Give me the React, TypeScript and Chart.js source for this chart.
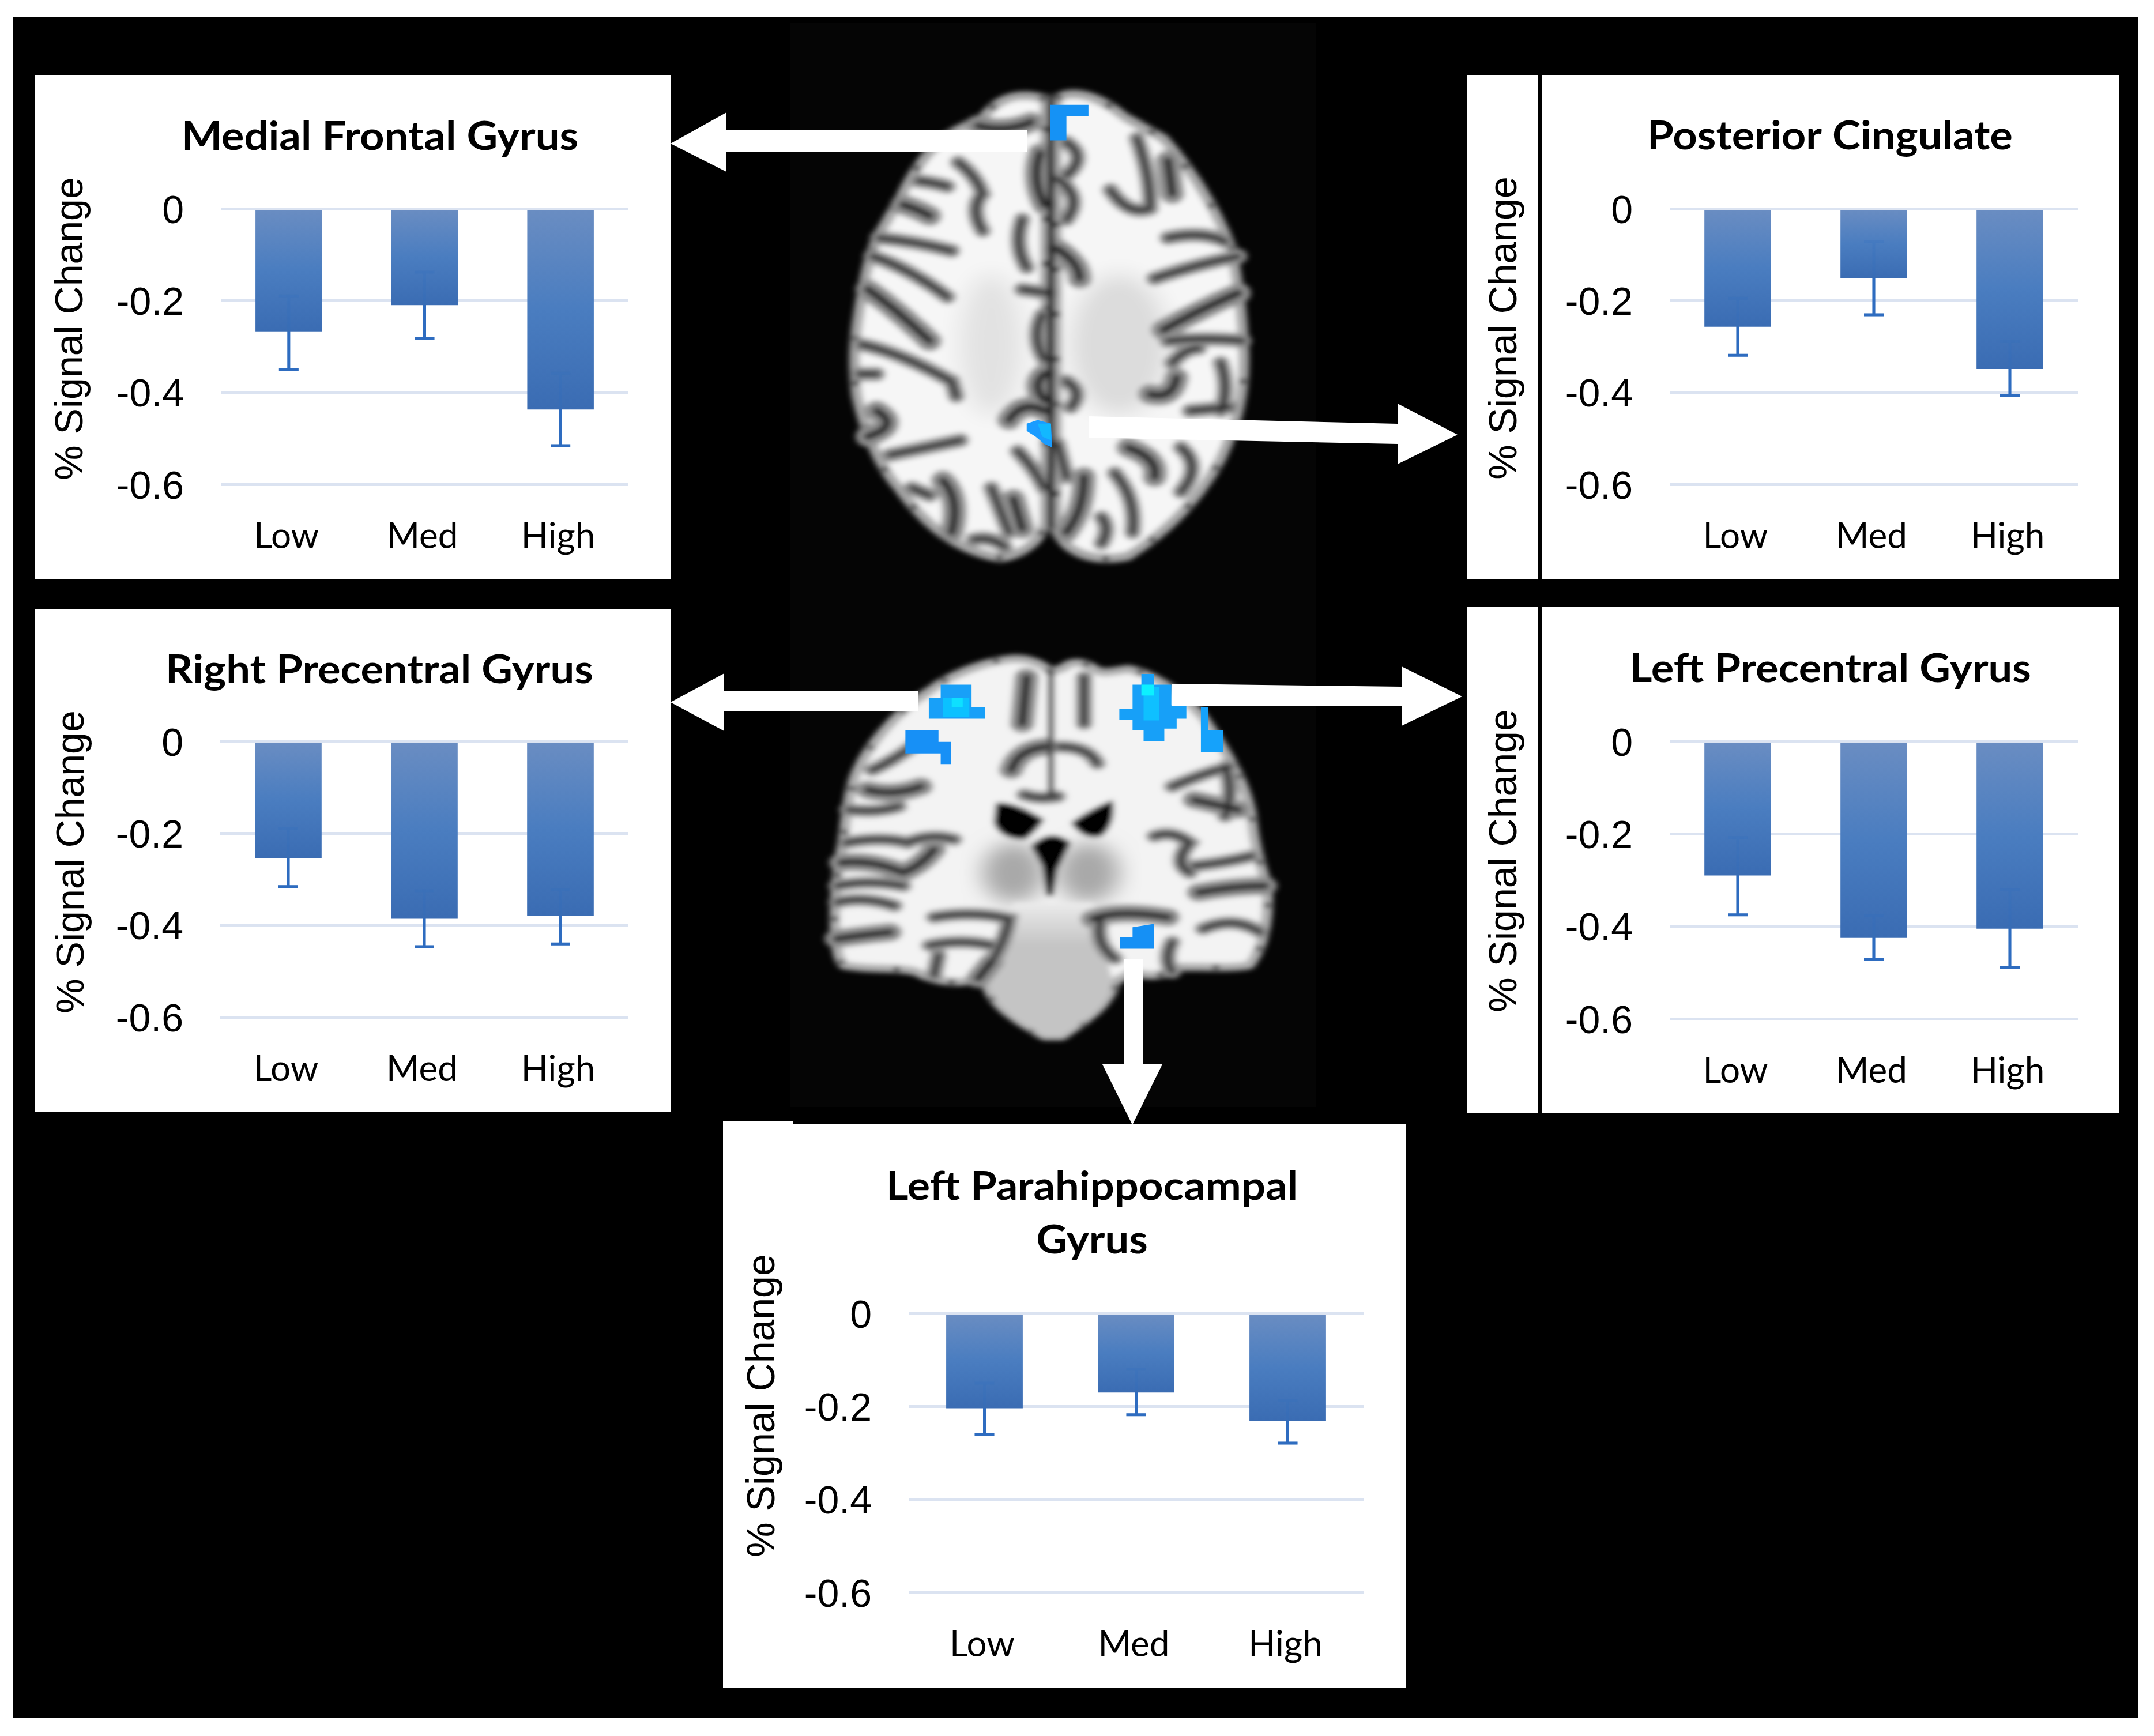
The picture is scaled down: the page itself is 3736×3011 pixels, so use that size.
import { useEffect, useRef } from "react";
import { Chart, registerables } from "chart.js";

Chart.register(...registerables);

const categories = ["Low", "Med", "High"];
const yTicks = [0, -0.2, -0.4, -0.6];

const medialFrontalValues = [-0.267, -0.21, -0.437];
const medialFrontalErrTop = [-0.19, -0.138, -0.358];
const medialFrontalErrBottom = [-0.35, -0.282, -0.516];

const posteriorCingulateValues = [-0.257, -0.152, -0.349];
const posteriorCingulateErrTop = [-0.195, -0.071, -0.289];
const posteriorCingulateErrBottom = [-0.319, -0.231, -0.407];

const rightPrecentralValues = [-0.254, -0.386, -0.379];
const rightPrecentralErrTop = [-0.19, -0.325, -0.322];
const rightPrecentralErrBottom = [-0.316, -0.447, -0.441];

const leftPrecentralValues = [-0.29, -0.425, -0.405];
const leftPrecentralErrTop = [-0.208, -0.377, -0.321];
const leftPrecentralErrBottom = [-0.375, -0.472, -0.489];

const parahippocampalValues = [-0.204, -0.17, -0.231];
const parahippocampalErrTop = [-0.15, -0.12, -0.187];
const parahippocampalErrBottom = [-0.261, -0.218, -0.279];

const yAxisLabel = "% Signal Change";

interface PanelProps {
  title: string[];
  values: number[];
  errTop: number[];
  errBottom: number[];
  // panel box and plot area, page pixels
  box: [number, number, number, number];
  area: [number, number, number, number];
  titleX: number;
  titleY: number[];
  axisX: number;
  axisY: number;
  barPct?: number;
}

const ERR_COLOR = "#2f6cc0";

function BarPanel(props: PanelProps) {
  const { title, values, errTop, errBottom, box, area, titleX, titleY, axisX, axisY } = props;
  const canvasRef = useRef<HTMLCanvasElement>(null);
  const [left, top, right, bottom] = box;
  const [aLeft, aTop, aRight, aBottom] = area;

  useEffect(() => {
    if (!canvasRef.current) return;

    const drawErrors = (chart: any, alpha: number) => {
      const { ctx, scales } = chart;
      ctx.save();
      ctx.globalAlpha = alpha;
      ctx.strokeStyle = ERR_COLOR;
      ctx.lineWidth = 5;
      values.forEach((_, i) => {
        const x = scales.x.getPixelForTick(i);
        const y1 = scales.y.getPixelForValue(errTop[i]);
        const y2 = scales.y.getPixelForValue(errBottom[i]);
        ctx.beginPath();
        ctx.moveTo(x, y1);
        ctx.lineTo(x, y2);
        ctx.moveTo(x - 17, y1);
        ctx.lineTo(x + 17, y1);
        ctx.moveTo(x - 17, y2);
        ctx.lineTo(x + 17, y2);
        ctx.stroke();
      });
      ctx.restore();
    };

    const errorBars = {
      id: "errorBars",
      beforeDatasetsDraw: (chart: any) => drawErrors(chart, 1),
      afterDatasetsDraw: (chart: any) => drawErrors(chart, 0.22),
    };

    // tick labels sit a little under their grid lines in the reference
    let nudged = false;
    const nudgeTicks = {
      id: "nudgeTicks",
      beforeDraw: (chart: any) => {
        if (nudged) return;
        nudged = true;
        chart.scales.y.getLabelItems(chart.chartArea).forEach((item: any) => {
          item.options.translation[1] += 6;
        });
      },
    };

    const panelText = {
      id: "panelText",
      afterDraw: (chart: any) => {
        const { ctx } = chart;
        ctx.save();
        ctx.fillStyle = "#000";
        ctx.textAlign = "center";
        ctx.textBaseline = "alphabetic";
        ctx.font = "bold 68px Lato";
        title.forEach((line, i) => {
          ctx.save();
          ctx.translate(titleX - left, titleY[i] + 2 - top);
          ctx.scale(1.09, 1);
          ctx.fillText(line, 0, 0);
          ctx.restore();
        });
        ctx.translate(axisX - left, axisY - top);
        ctx.rotate(-Math.PI / 2);
        ctx.font = '68px "Liberation Sans"';
        ctx.fillText(yAxisLabel, 0, 0);
        ctx.restore();
      },
    };

    const chart = new Chart(canvasRef.current, {
      type: "bar",
      data: {
        labels: categories,
        datasets: [
          {
            data: values,
            categoryPercentage: 1,
            barPercentage: props.barPct ?? 0.49,
            backgroundColor: (c: any) => {
              const { chart: ch, dataIndex } = c;
              if (!ch.chartArea || dataIndex === undefined) return "#4a7dc0";
              const y = ch.scales.y;
              const g = ch.ctx.createLinearGradient(
                0,
                y.getPixelForValue(0),
                0,
                y.getPixelForValue(values[dataIndex])
              );
              g.addColorStop(0, "#6a8dc2");
              g.addColorStop(0.5, "#4a7dc0");
              g.addColorStop(1, "#3a6cb3");
              return g;
            },
          },
        ],
      },
      options: {
        responsive: false,
        animation: false,
        devicePixelRatio: 1,
        layout: {
          padding: { left: 0, top: aTop - top, right: right - aRight, bottom: 0 },
        },
        plugins: { legend: { display: false }, title: { display: false }, tooltip: { enabled: false } },
        scales: {
          x: {
            afterFit: (s: any) => {
              s.height = bottom - aBottom;
            },
            border: { display: false },
            grid: { display: false },
            ticks: {
              color: "#000",
              padding: 52,
              labelOffset: -4,
              maxRotation: 0,
              autoSkip: false,
              font: { family: "Lato", size: 62, lineHeight: 1 },
            },
          },
          y: {
            min: -0.6,
            max: 0,
            afterFit: (s: any) => {
              s.width = aLeft - left;
            },
            afterBuildTicks: (s: any) => {
              s.ticks = yTicks.map((value) => ({ value }));
            },
            border: { display: false },
            grid: { color: "#dbe3f1", lineWidth: 5, drawTicks: false },
            ticks: {
              color: "#000",
              padding: 64,
              font: { family: "Liberation Sans", size: 68 },
              callback: (v: any) => (v === 0 ? "0" : Number(v).toFixed(1)),
            },
          },
        },
      } as any,
      plugins: [nudgeTicks, errorBars, panelText],
    });

    return () => chart.destroy();
  }, []);

  return (
    <div
      style={{
        position: "absolute",
        left,
        top,
        width: right - left,
        height: bottom - top,
        background: "#fff",
      }}
    >
      <canvas
        ref={canvasRef}
        width={right - left}
        height={bottom - top}
        style={{ display: "block" }}
      />
    </div>
  );
}

// brain slices, traced by eye from the crop coordinates
const AXIAL_LEFT =
  "M592 112 C540 95 490 100 450 165 L395 195 C340 230 300 290 262 385 L215 480 C190 540 180 620 170 690 C160 760 155 830 165 920 C185 1020 215 1110 260 1170 C320 1270 390 1340 490 1360 C545 1350 585 1310 592 1260 Z";
const AXIAL_RIGHT =
  "M618 112 C650 85 710 100 770 160 L860 220 C920 300 975 400 1015 520 C1030 620 1040 720 1042 800 C1045 900 1030 990 990 1090 C945 1190 880 1280 780 1355 C720 1370 650 1360 618 1290 Z";
const AXIAL_SULCI = [
  "M440 185 Q500 205 560 175",
  "M395 285 Q435 320 450 370 Q420 410 450 470",
  "M305 335 Q340 340 370 350",
  "M270 400 Q300 410 330 430",
  "M215 490 Q300 500 380 525",
  "M200 540 Q280 570 370 650",
  "M190 630 Q250 680 330 770",
  "M175 780 Q260 800 380 880 L390 920",
  "M170 860 L210 860",
  "M210 960 Q265 1000 190 1030",
  "M240 1080 Q320 1060 400 1040",
  "M290 1170 L330 1190",
  "M360 1150 Q400 1200 380 1290",
  "M470 1170 Q490 1230 510 1290",
  "M430 1310 Q470 1300 500 1330",
  "M520 1200 L540 1280",
  "M540 440 Q520 510 550 570",
  "M540 630 L600 640",
  "M510 985 Q540 930 590 960",
  "M530 1070 Q570 1120 590 1170",
  "M620 330 Q680 380 640 440",
  "M620 520 Q670 560 670 600",
  "M740 360 Q780 430 830 410",
  "M800 220 Q830 320 830 400",
  "M870 280 L880 370",
  "M870 490 Q950 470 1000 500",
  "M840 600 Q940 560 1030 540",
  "M860 740 Q950 680 1030 640",
  "M870 770 Q960 760 1040 770",
  "M880 830 Q910 790 940 790",
  "M830 915 Q880 930 890 870",
  "M990 830 Q1010 900 990 960",
  "M920 960 L1010 950",
  "M780 1060 Q850 1090 840 1140",
  "M900 1060 Q950 1110 900 1180",
  "M750 1130 Q800 1200 790 1290",
  "M680 1140 Q680 1230 640 1290",
  "M720 1250 Q740 1280 720 1320",
  "M620 1050 L640 1140",
  "M580 260 Q560 330 590 400",
  "M640 230 Q690 270 640 320",
  "M585 700 Q560 760 590 820",
  "M590 860 Q560 890 590 930",
  "M640 880 Q680 910 650 950",
];

const CORONAL_OUTLINE =
  "M605 185 C580 150 540 140 510 145 C450 155 380 190 330 240 C260 300 190 400 160 500 C140 580 140 660 130 720 C120 790 115 860 115 930 C115 990 120 1050 135 1070 C190 1085 260 1075 300 1090 C340 1120 400 1130 440 1110 L460 1130 C470 1190 530 1240 590 1285 L630 1285 C680 1240 740 1190 750 1120 L790 1090 C830 1110 870 1100 900 1075 C960 1075 1020 1080 1055 1070 C1090 1010 1100 920 1095 830 C1080 770 1065 700 1060 620 C1045 510 1000 420 950 320 C900 250 840 190 780 175 C750 180 730 190 710 180 C680 150 650 150 635 170 Z";
const CORONAL_SULCI = [
  "M190 540 Q250 560 310 530",
  "M145 600 Q210 610 260 590",
  "M140 700 Q220 680 280 700 Q330 670 385 690",
  "M130 760 Q200 750 270 790 Q310 770 340 720",
  "M120 830 Q190 810 270 830",
  "M120 880 Q180 860 250 890",
  "M120 990 Q170 980 240 970",
  "M340 925 Q430 905 510 930 Q500 1000 470 1060",
  "M330 1010 Q400 990 470 1010",
  "M700 930 Q760 900 870 925",
  "M720 925 Q700 1000 750 1050",
  "M880 530 Q950 490 1010 470",
  "M930 570 L1030 600",
  "M840 680 Q880 660 920 700 Q880 760 920 790",
  "M930 770 Q1000 760 1060 740",
  "M940 850 Q1020 830 1090 830",
  "M950 960 Q1020 920 1080 970",
  "M880 1000 Q860 1050 880 1090",
  "M515 480 Q530 420 590 410",
  "M625 410 Q690 410 710 460",
  "M350 1040 L340 1100",
  "M440 1110 L470 1060",
  "M300 400 Q250 450 200 480",
  "M1000 470 Q1020 540 1000 620",
  "M550 200 L540 340",
  "M680 200 L680 340",
  "M620 560 Q580 570 545 555",
];

const BLUE_PATCHES = {
  axial: [
    { fill: "#1592f5", pts: "603,128 690,128 690,160 640,160 640,225 603,225" },
    { fill: "#1a9cff", pts: "550,995 575,985 605,995 608,1060 590,1050 570,1030 550,1015" },
    { fill: "#12b8ff", pts: "575,995 605,995 605,1040 585,1030" },
  ],
  coronal: [
    { fill: "#18a0f8", pts: "355,222 425,222 425,290 455,290 455,325 328,325 328,262 355,262" },
    { fill: "#0bc1ff", pts: "360,262 420,262 420,320 360,320" },
    { fill: "#0ee0ff", pts: "380,262 405,262 405,290 380,290" },
    { fill: "#1790f6", pts: "275,360 350,360 350,395 378,395 378,462 355,462 355,430 275,430" },
    { fill: "#17a0f8", pts: "810,190 838,190 838,222 878,222 878,285 912,285 912,325 890,325 890,355 862,355 862,392 815,392 815,360 790,360 790,328 760,328 760,295 790,295 790,222 810,222" },
    { fill: "#0fc0ff", pts: "815,230 850,230 850,330 815,330" },
    { fill: "#0cf0ff", pts: "810,222 838,222 838,255 810,255" },
    { fill: "#15a2fb", pts: "945,290 962,290 962,360 995,360 995,425 945,425" },
    { fill: "#1590f5", pts: "762,985 790,985 790,955 838,945 838,1020 762,1020" },
  ],
};

const ARROWS = [
  "1781,226 1260,226 1260,195 1163,249 1260,298 1260,263 1781,263",
  "1888,722 2424,735 2424,700 2528,754 2424,805 2424,770 1888,759",
  "1592,1199 1256,1199 1256,1168 1163,1218 1256,1268 1256,1234 1592,1234",
  "2032,1186 2431,1191 2431,1156 2536,1208 2431,1259 2431,1225 2032,1224",
  "1949,1663 1983,1663 1983,1846 2016,1846 1964,1951 1912,1846 1949,1846",
];

// gray cortex band with a dark crease down the middle
function Sulci({ paths }: { paths: string[] }) {
  return (
    <>
      {paths.map((d, i) => (
        <path key={"g" + i} d={d} fill="none" stroke="#8f8f8f" strokeWidth={i % 3 === 0 ? 56 : 40} strokeLinecap="round" />
      ))}
      {paths.map((d, i) => (
        <path key={"d" + i} d={d} fill="none" stroke="#2c2c2c" strokeWidth={i % 3 === 0 ? 20 : 14} strokeLinecap="round" />
      ))}
    </>
  );
}

function Backdrop() {
  return (
    <svg
      width={3736}
      height={3011}
      style={{ position: "absolute", left: 0, top: 0, display: "block" }}
    >
      <defs>
        <filter id="soft" x="-5%" y="-5%" width="110%" height="110%">
          <feGaussianBlur stdDeviation="7" />
        </filter>
        <filter id="softer" x="-30%" y="-30%" width="160%" height="160%">
          <feGaussianBlur stdDeviation="26" />
        </filter>
        <linearGradient id="stem" gradientUnits="userSpaceOnUse" x1="0" y1="880" x2="0" y2="1010">
          <stop offset="0" stopColor="#ececec" />
          <stop offset="1" stopColor="#c4c4c4" />
        </linearGradient>
      </defs>
      <rect x={23} y={29} width={3685} height={2950} fill="#000" />
      <rect x={1370} y={40} width={912} height={1880} fill="#050505" />

      <g transform="translate(1360,100) scale(0.765,0.638)">
        <g filter="url(#soft)">
          <path d={AXIAL_LEFT} fill="#f6f6f6" stroke="#a6a6a6" strokeWidth={24} strokeLinejoin="round" />
          <path d={AXIAL_RIGHT} fill="#f6f6f6" stroke="#a6a6a6" strokeWidth={24} strokeLinejoin="round" />
          <path d={AXIAL_LEFT} fill="none" stroke="#0a0a0a" strokeWidth={16} strokeDasharray="12 110" />
          <path d={AXIAL_RIGHT} fill="none" stroke="#0a0a0a" strokeWidth={16} strokeDasharray="12 110" />
          <ellipse cx={760} cy={780} rx={110} ry={190} fill="#dcdcdc" filter="url(#softer)" />
          <ellipse cx={470} cy={780} rx={70} ry={190} fill="#e2e2e2" filter="url(#softer)" />
          <Sulci paths={AXIAL_SULCI} />
          <path d="M605 100 L605 1280" stroke="#1c1c1c" strokeWidth={16} />
        </g>
        {BLUE_PATCHES.axial.map((p, i) => (
          <polygon key={i} points={p.pts} fill={p.fill} />
        ))}
      </g>

      <g transform="translate(1360,1060) scale(0.765,0.574)">
        <g filter="url(#soft)">
          <path d={CORONAL_OUTLINE} fill="#f3f3f3" stroke="#adadad" strokeWidth={24} strokeLinejoin="round" />
          <path d={CORONAL_OUTLINE} fill="none" stroke="#0a0a0a" strokeWidth={16} strokeDasharray="12 120" />
          <ellipse cx={520} cy={790} rx={70} ry={90} fill="#a8a8a8" filter="url(#softer)" />
          <ellipse cx={690} cy={790} rx={70} ry={90} fill="#a8a8a8" filter="url(#softer)" />
          <path d="M520 880 L700 880 L745 1120 C740 1190 680 1240 630 1285 L590 1285 C530 1240 470 1190 462 1120 Z" fill="url(#stem)" />
          <Sulci paths={CORONAL_SULCI} />
          <path d="M605 175 L605 570" stroke="#3c3c3c" strokeWidth={14} />
          <path d="M480 580 Q520 572 590 630 Q570 670 545 690 Q490 690 475 640 Z" fill="#000" />
          <path d="M745 570 Q755 640 720 680 Q680 695 650 640 Q690 600 745 570 Z" fill="#000" />
          <path d="M560 710 Q605 650 650 700 L620 780 L610 860 L595 860 L585 770 Z" fill="#000" />
        </g>
        {BLUE_PATCHES.coronal.map((p, i) => (
          <polygon key={i} points={p.pts} fill={p.fill} />
        ))}
      </g>

      {ARROWS.map((pts, i) => (
        <polygon key={i} points={pts} fill="#fff" />
      ))}
    </svg>
  );
}

export default function App() {
  useEffect(() => {
    document.body.style.margin = "0";
  }, []);

  return (
    <div
      style={{
        position: "absolute",
        left: 0,
        top: 0,
        width: 3736,
        height: 3011,
        background: "#fff",
        overflow: "hidden",
      }}
    >
      <Backdrop />
      <BarPanel
        title={["Medial Frontal Gyrus"]}
        values={medialFrontalValues}
        errTop={medialFrontalErrTop}
        errBottom={medialFrontalErrBottom}
        box={[60, 130, 1163, 1004]}
        area={[383, 362, 1090, 840]}
        titleX={659}
        titleY={[258]}
        axisX={143}
        axisY={570}
      />
      <BarPanel
        title={["Posterior Cingulate"]}
        values={posteriorCingulateValues}
        errTop={posteriorCingulateErrTop}
        errBottom={posteriorCingulateErrBottom}
        box={[2544, 130, 3676, 1005]}
        area={[2896, 362, 3604, 840]}
        titleX={3174}
        titleY={[257]}
        axisX={2630}
        axisY={569}
      />
      <BarPanel
        title={["Right Precentral Gyrus"]}
        values={rightPrecentralValues}
        errTop={rightPrecentralErrTop}
        errBottom={rightPrecentralErrBottom}
        box={[60, 1056, 1163, 1929]}
        area={[382, 1286, 1090, 1764]}
        titleX={658}
        titleY={[1183]}
        axisX={145}
        axisY={1495}
      />
      <BarPanel
        title={["Left Precentral Gyrus"]}
        values={leftPrecentralValues}
        errTop={leftPrecentralErrTop}
        errBottom={leftPrecentralErrBottom}
        box={[2544, 1052, 3676, 1931]}
        area={[2896, 1286, 3604, 1767]}
        titleX={3175}
        titleY={[1181]}
        axisX={2630}
        axisY={1493}
      />
      <BarPanel
        title={["Left Parahippocampal", "Gyrus"]}
        values={parahippocampalValues}
        errTop={parahippocampalErrTop}
        errBottom={parahippocampalErrBottom}
        box={[1254, 1950, 2438, 2927]}
        area={[1576, 2278, 2365, 2762]}
        titleX={1894}
        titleY={[2079, 2172]}
        axisX={1343}
        axisY={2438}
        barPct={0.505}
      />
      <div style={{ position: "absolute", left: 1254, top: 1945, width: 122, height: 6, background: "#fff" }} />
      <div style={{ position: "absolute", left: 2667, top: 130, width: 7, height: 875, background: "#000" }} />
      <div style={{ position: "absolute", left: 2667, top: 1050, width: 7, height: 882, background: "#000" }} />
    </div>
  );
}
